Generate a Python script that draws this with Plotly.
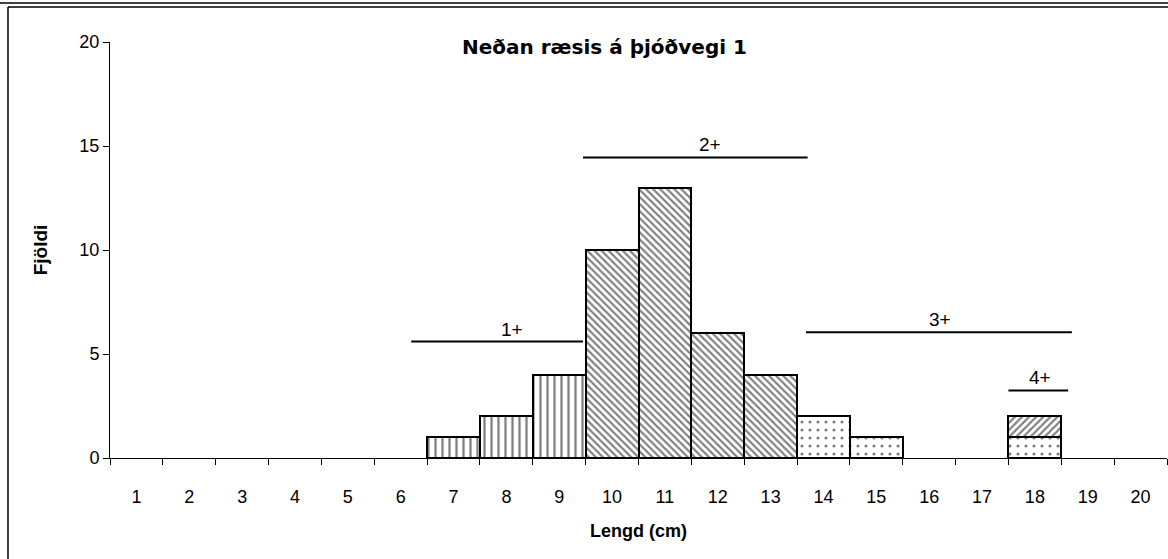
import plotly.graph_objects as go

# ---- data ----
lengths = [str(i) for i in range(1, 21)]
age1_len = ["7", "8", "9"]
age1_cnt = [1, 2, 4]
age2_len = ["10", "11", "12", "13"]
age2_cnt = [10, 13, 6, 4]
age3_len = ["14", "15", "18"]
age3_cnt = [2, 1, 1]
age4_len = ["18"]
age4_cnt = [1]

age_names = ["1+", "2+", "3+", "4+"]
age_start = [6.2, 9.45, 13.67, 17.5]
age_end = [9.45, 13.7, 18.7, 18.63]
age_level = [5.6, 14.45, 6.05, 3.25]
age_label_x = [8.1, 11.85, 16.2, 18.1]

title_text = "Neðan ræsis á þjóðvegi 1"
x_title = "Lengd (cm)"
y_title = "Fjöldi"

FONT = "Arial, Liberation Sans, sans-serif"

fig = go.Figure()

def add_bar(x, y, shape, size, solid):
    fig.add_trace(go.Bar(
        x=x, y=y,
        marker=dict(color="white", line=dict(color="black", width=2),
                    pattern=dict(shape=shape, size=size, solidity=solid,
                                 fgcolor="black", bgcolor="white")),
        showlegend=False, hoverinfo="skip"))

add_bar(age1_len, age1_cnt, "|", 7, 0.32)
add_bar(age2_len, age2_cnt, "\\", 5, 0.42)
add_bar(age3_len, age3_cnt, ".", 8, 0.12)
add_bar(age4_len, age4_cnt, "/", 5, 0.42)

# age group lines (category axis index = length - 1)
for name, s, e, lv, lx in zip(age_names, age_start, age_end, age_level, age_label_x):
    fig.add_shape(type="line", xref="x", yref="y",
                  x0=s - 1, x1=e - 1, y0=lv, y1=lv,
                  line=dict(color="black", width=2))
    fig.add_annotation(x=lx - 1, y=lv, xref="x", yref="y",
                       text=name, showarrow=False, yanchor="bottom",
                       font=dict(family=FONT, size=19, color="black"))

# title
fig.add_annotation(x=0.468, y=0.988, xref="paper", yref="paper",
                   text="<b>" + title_text + "</b>", showarrow=False,
                   xanchor="center", yanchor="middle",
                   font=dict(family="DejaVu Sans, Arial, sans-serif", size=20, color="black"))

# outer frame
fig.add_shape(type="line", xref="paper", yref="paper",
              x0=-0.2, x1=1.1, y0=1.094, y1=1.094,
              line=dict(color="black", width=1.5))
fig.add_shape(type="line", xref="paper", yref="paper",
              x0=-0.0965, x1=1.1, y0=1.084, y1=1.084,
              line=dict(color="black", width=1.5))
fig.add_shape(type="line", xref="paper", yref="paper",
              x0=-0.0965, x1=-0.0965, y0=1.084, y1=-0.3,
              line=dict(color="black", width=1.5))

fig.update_layout(
    width=1168, height=559,
    margin=dict(l=110, r=1, t=42, b=101),
    paper_bgcolor="white", plot_bgcolor="white",
    barmode="stack", bargap=0,
    font=dict(family=FONT, size=18, color="black"),
    xaxis=dict(type="category", categoryorder="array", categoryarray=lengths,
               range=[-0.5, 19.5], tickson="boundaries",
               ticks="outside", ticklen=6, tickcolor="black",
               ticklabelstandoff=22,
               showline=True, linecolor="black", linewidth=1,
               showgrid=False, zeroline=False,
               title=dict(text="<b>" + x_title + "</b>", standoff=18,
                          font=dict(family=FONT, size=18))),
    yaxis=dict(range=[0, 20], tickvals=[0, 5, 10, 15, 20],
               ticks="outside", ticklen=6, tickcolor="black",
               showline=True, linecolor="black", linewidth=1,
               showgrid=False, zeroline=False,
               title=dict(text="<b>" + y_title + "</b>", standoff=26,
                          font=dict(family=FONT, size=19))),
)

fig.write_html("out.html", config={"displayModeBar": False},
               post_script="document.body.style.margin='0px';")
